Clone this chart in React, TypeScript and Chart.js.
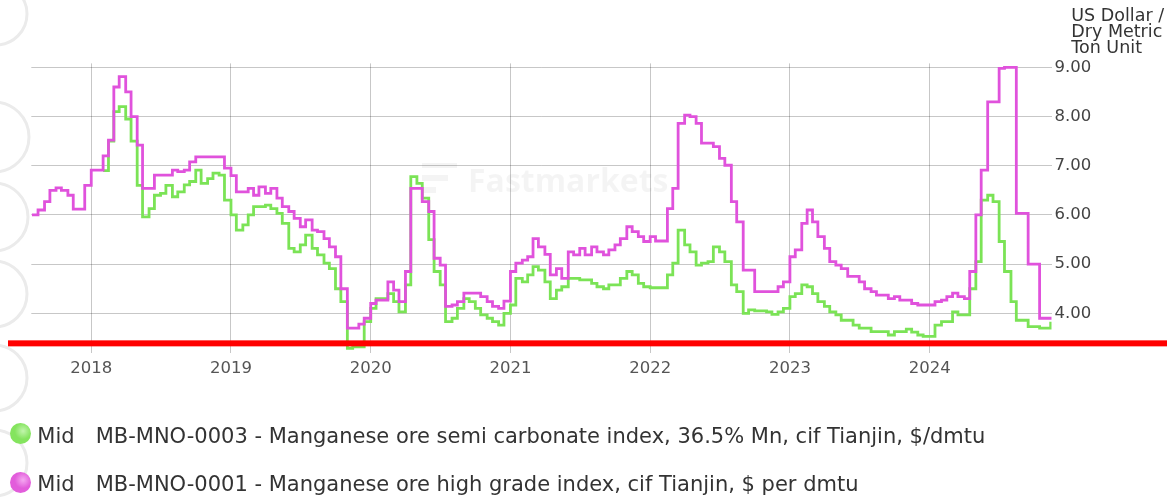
import React, { useEffect, useRef } from "react";
import { Chart, registerables } from "chart.js";

Chart.register(...registerables);

// Half-monthly observation dates (price in force from that date)
const dates: string[] = [
  "2017-07-30", "2017-08-15", "2017-09-01", "2017-09-15", "2017-10-01", "2017-10-15", "2017-11-01", "2017-11-15", "2017-12-01", "2017-12-15",
  "2018-01-01", "2018-01-15", "2018-02-01", "2018-02-15", "2018-03-01", "2018-03-15", "2018-04-01", "2018-04-15", "2018-05-01", "2018-05-15", "2018-06-01", "2018-06-15",
  "2018-07-01", "2018-07-15", "2018-08-01", "2018-08-15", "2018-09-01", "2018-09-15", "2018-10-01", "2018-10-15", "2018-11-01", "2018-11-15", "2018-12-01", "2018-12-15",
  "2019-01-01", "2019-01-15", "2019-02-01", "2019-02-15", "2019-03-01", "2019-03-15", "2019-04-01", "2019-04-15", "2019-05-01", "2019-05-15", "2019-06-01", "2019-06-15",
  "2019-07-01", "2019-07-15", "2019-08-01", "2019-08-15", "2019-09-01", "2019-09-15", "2019-10-01", "2019-10-15", "2019-11-01", "2019-11-15", "2019-12-01", "2019-12-15",
  "2020-01-01", "2020-01-15", "2020-02-01", "2020-02-15", "2020-03-01", "2020-03-15", "2020-04-01", "2020-04-15", "2020-05-01", "2020-05-15", "2020-06-01", "2020-06-15",
  "2020-07-01", "2020-07-15", "2020-08-01", "2020-08-15", "2020-09-01", "2020-09-15", "2020-10-01", "2020-10-15", "2020-11-01", "2020-11-15", "2020-12-01", "2020-12-15",
  "2021-01-01", "2021-01-15", "2021-02-01", "2021-02-15", "2021-03-01", "2021-03-15", "2021-04-01", "2021-04-15", "2021-05-01", "2021-05-15", "2021-06-01", "2021-06-15",
  "2021-07-01", "2021-07-15", "2021-08-01", "2021-08-15", "2021-09-01", "2021-09-15", "2021-10-01", "2021-10-15", "2021-11-01", "2021-11-15", "2021-12-01", "2021-12-15",
  "2022-01-01", "2022-01-15", "2022-02-01", "2022-02-15", "2022-03-01", "2022-03-15", "2022-04-01", "2022-04-15", "2022-05-01", "2022-05-15", "2022-06-01", "2022-06-15",
  "2022-07-01", "2022-07-15", "2022-08-01", "2022-08-15", "2022-09-01", "2022-09-15", "2022-10-01", "2022-10-15", "2022-11-01", "2022-11-15", "2022-12-01", "2022-12-15",
  "2023-01-01", "2023-01-15", "2023-02-01", "2023-02-15", "2023-03-01", "2023-03-15", "2023-04-01", "2023-04-15", "2023-05-01", "2023-05-15", "2023-06-01", "2023-06-15",
  "2023-07-01", "2023-07-15", "2023-08-01", "2023-08-15", "2023-09-01", "2023-09-15", "2023-10-01", "2023-10-15", "2023-11-01", "2023-11-15", "2023-12-01", "2023-12-15",
  "2024-01-01", "2024-01-15", "2024-02-01", "2024-02-15", "2024-03-01", "2024-03-15", "2024-04-01", "2024-04-15", "2024-05-01", "2024-05-15", "2024-06-01", "2024-06-15",
  "2024-07-01", "2024-07-15", "2024-08-01", "2024-08-15", "2024-09-01", "2024-09-15", "2024-10-01", "2024-10-15", "2024-11-01", "2024-11-13",
];

// MB-MNO-0003 semi carbonate index (USD/dmtu)
const semiCarbonate: (number | null)[] = [
  null, null, null, null, null, null, null, null, null, null,
  null, null, 6.9, 7.5, 8.1, 8.2, 7.95, 7.5, 6.6, 5.96,
  6.13, 6.4, 6.44, 6.6, 6.37, 6.47, 6.61, 6.68, 6.91, 6.64,
  6.74, 6.85, 6.81, 6.3, 6.0, 5.69, 5.8, 6.0, 6.17, 6.17,
  6.2, 6.13, 6.03, 5.83, 5.32, 5.25, 5.39, 5.59, 5.32, 5.19,
  5.02, 4.91, 4.5, 4.24, 3.29, 3.32, 3.32, 3.83, 4.1, 4.3,
  4.3, 4.4, 4.24, 4.03, 4.58, 6.78, 6.64, 6.34, 5.5, 4.85,
  4.58, 3.83, 3.9, 4.1, 4.3, 4.24, 4.1, 3.97, 3.9, 3.83,
  3.76, 4.0, 4.17, 4.71, 4.64, 4.78, 4.95, 4.88, 4.64, 4.3,
  4.47, 4.54, 4.71, 4.71, 4.68, 4.68, 4.61, 4.54, 4.5, 4.58,
  4.58, 4.71, 4.85, 4.78, 4.61, 4.54, 4.52, 4.52, 4.52, 4.78,
  5.02, 5.69, 5.39, 5.25, 4.98, 5.02, 5.05, 5.35, 5.25, 5.05,
  4.58, 4.44, 4.0, 4.07, 4.05, 4.05, 4.03, 3.98, 4.03, 4.1,
  4.34, 4.4, 4.58, 4.54, 4.4, 4.24, 4.14, 4.03, 3.97, 3.86,
  3.86, 3.76, 3.7, 3.7, 3.63, 3.63, 3.63, 3.56, 3.63, 3.63,
  3.68, 3.62, 3.56, 3.53, 3.53, 3.76, 3.83, 3.83, 4.03, 3.97,
  3.97, 4.5, 5.05, 6.3, 6.4, 6.27, 5.46, 4.85, 4.24, 3.86,
  3.86, 3.73, 3.73, 3.7, 3.7, 3.83,
];

// MB-MNO-0001 high grade index (USD/dmtu)
const highGrade: (number | null)[] = [
  6.0, 6.1, 6.27, 6.5, 6.55, 6.5, 6.4, 6.12, 6.12, 6.6,
  6.91, 6.91, 7.2, 7.52, 8.6, 8.81, 8.5, 8.0, 7.42, 6.54,
  6.54, 6.81, 6.81, 6.81, 6.91, 6.88, 6.91, 7.08, 7.18, 7.18,
  7.18, 7.18, 7.18, 6.95, 6.8, 6.47, 6.47, 6.54, 6.4, 6.57,
  6.44, 6.54, 6.34, 6.17, 6.07, 5.93, 5.76, 5.9, 5.69, 5.66,
  5.52, 5.35, 5.15, 4.5, 3.7, 3.7, 3.78, 3.9, 4.2, 4.27,
  4.27, 4.64, 4.47, 4.24, 4.85, 6.54, 6.54, 6.27, 6.07, 5.12,
  4.98, 4.14, 4.17, 4.24, 4.41, 4.41, 4.41, 4.34, 4.24, 4.14,
  4.1, 4.25, 4.85, 5.02, 5.08, 5.15, 5.52, 5.35, 5.2, 4.78,
  4.91, 4.71, 5.25, 5.19, 5.32, 5.19, 5.35, 5.25, 5.19, 5.29,
  5.39, 5.52, 5.76, 5.66, 5.56, 5.46, 5.56, 5.47, 5.47, 6.13,
  6.54, 7.86, 8.03, 8.0, 7.86, 7.46, 7.46, 7.39, 7.15, 7.01,
  6.27, 5.86, 4.88, 4.88, 4.44, 4.44, 4.44, 4.44, 4.54, 4.64,
  5.15, 5.29, 5.83, 6.1, 5.86, 5.56, 5.32, 5.05, 4.98, 4.91,
  4.75, 4.75, 4.64, 4.5, 4.44, 4.37, 4.37, 4.3, 4.34, 4.27,
  4.27, 4.2, 4.17, 4.17, 4.17, 4.24, 4.27, 4.34, 4.41, 4.34,
  4.3, 4.85, 6.0, 6.91, 8.3, 8.3, 8.98, 9.0, 9.0, 6.03,
  6.03, 5.0, 5.0, 3.9, 3.9, 3.93,
];

const yearTicks = [2018, 2019, 2020, 2021, 2022, 2023, 2024];
const priceTicks = [4, 5, 6, 7, 8, 9];
const xRange = [2017.571, 2024.872];
const yRange = [3.2, 9.08];
const redLineLevel = 3.39;
const axisTitleLines = ["US Dollar /", "Dry Metric", "Ton Unit"];

const GREEN = "#7be356";
const MAGENTA = "#e052dc";

const legendItems = [
  {
    kind: "Mid",
    label: "MB-MNO-0003 - Manganese ore semi carbonate index, 36.5% Mn, cif Tianjin, $/dmtu",
    base: "#84e45e",
    light: "#c2f5ad",
  },
  {
    kind: "Mid",
    label: "MB-MNO-0001 - Manganese ore high grade index, cif Tianjin, $ per dmtu",
    base: "#e25ddb",
    light: "#f5a9f1",
  },
];

function toYear(d: string): number {
  const [y, m, day] = d.split("-").map(Number);
  const start = Date.UTC(y, 0, 1);
  const end = Date.UTC(y + 1, 0, 1);
  return y + (Date.UTC(y, m - 1, day) - start) / (end - start);
}

function series(values: (number | null)[]) {
  const pts: { x: number; y: number }[] = [];
  dates.forEach((d, i) => {
    const v = values[i];
    if (v !== null && v !== undefined) pts.push({ x: toYear(d), y: v });
  });
  return pts;
}

const FONT = "'DejaVu Sans', Verdana, sans-serif";

const decorPlugin = {
  id: "decor",
  beforeDraw(chart: any) {
    const ctx = chart.ctx;
    ctx.save();
    ctx.strokeStyle = "#ebebeb";
    ctx.lineWidth = 3;
    const rings = [
      [-4, 14, 31],
      [-6, 137, 35],
      [-6, 217, 34],
      [-6, 294, 33],
      [-6, 378, 33],
      [-6, 463, 33],
    ];
    rings.forEach(([cx, cy, r]) => {
      ctx.beginPath();
      ctx.arc(cx, cy, r, -Math.PI / 2, Math.PI / 2);
      ctx.stroke();
    });
    ctx.restore();
  },
  beforeDatasetsDraw(chart: any) {
    const ctx = chart.ctx;
    ctx.save();
    ctx.fillStyle = "rgba(0,0,0,0.045)";
    ctx.fillRect(422, 163, 35, 5);
    ctx.fillRect(422, 175, 26, 6);
    ctx.fillRect(422, 187, 14, 6);
    ctx.font = "bold 32px 'Open Sans', sans-serif";
    ctx.textBaseline = "alphabetic";
    ctx.fillText("Fastmarkets", 468, 192);
    ctx.restore();
  },
  afterDraw(chart: any) {
    const ctx = chart.ctx;
    const y = chart.scales.y.getPixelForValue(redLineLevel);
    ctx.save();
    ctx.fillStyle = "#ff0000";
    ctx.fillRect(8, y - 3, chart.width - 8, 6);
    ctx.restore();
  },
};

export default function App() {
  const canvasRef = useRef<HTMLCanvasElement | null>(null);

  useEffect(() => {
    const canvas = canvasRef.current;
    if (!canvas) return;
    const gridColor = "rgba(0,0,0,0.22)";
    const chart = new Chart(canvas, {
      type: "line",
      data: {
        datasets: [
          {
            label: legendItems[0].label,
            data: series(semiCarbonate),
            borderColor: GREEN,
            backgroundColor: GREEN,
            borderWidth: 2.8,
            pointRadius: 0,
            stepped: "before",
            fill: false,
            order: 1,
          },
          {
            label: legendItems[1].label,
            data: series(highGrade),
            borderColor: MAGENTA,
            backgroundColor: MAGENTA,
            borderWidth: 2.8,
            pointRadius: 0,
            stepped: "before",
            fill: false,
            order: 0,
          },
        ],
      },
      options: {
        responsive: false,
        maintainAspectRatio: false,
        animation: false,
        layout: { padding: { left: 31.3, top: 63.4, right: 0, bottom: 104.3 } },
        plugins: {
          legend: { display: false },
          tooltip: { enabled: false },
        },
        scales: {
          x: {
            type: "linear",
            min: xRange[0],
            max: xRange[1],
            afterBuildTicks: (s: any) => {
              s.ticks = yearTicks.map((v) => ({ value: v }));
            },
            afterFit: (s: any) => {
              s.height = 40;
            },
            ticks: {
              callback: (v: any) => String(v),
              font: { family: FONT, size: 16.5 },
              color: "#555",
              padding: 6,
              maxRotation: 0,
              autoSkip: false,
            },
            grid: { color: gridColor, drawTicks: false, lineWidth: 1 },
            border: { display: false },
          },
          y: {
            type: "linear",
            position: "right",
            min: yRange[0],
            max: yRange[1],
            afterBuildTicks: (s: any) => {
              s.ticks = priceTicks.map((v) => ({ value: v }));
            },
            afterFit: (s: any) => {
              s.width = 115.5;
            },
            ticks: {
              callback: (v: any) => Number(v).toFixed(2),
              font: { family: FONT, size: 16.5 },
              color: "#444",
              padding: 3,
            },
            grid: { color: gridColor, drawTicks: false, lineWidth: 1 },
            border: { display: false },
          },
        },
      },
      plugins: [decorPlugin],
    } as any);
    return () => chart.destroy();
  }, []);

  const rowTops = [425.5, 473.9];
  const circleCenters = [433.7, 482];

  return (
    <div
      style={{
        position: "fixed",
        left: 0,
        top: 0,
        width: 1167,
        height: 497,
        background: "#fff",
        overflow: "hidden",
      }}
    >
      <canvas
        ref={canvasRef}
        width={1167}
        height={497}
        style={{ position: "absolute", left: 0, top: 0, width: 1167, height: 497, display: "block" }}
      />
      <div
        style={{
          position: "absolute",
          left: 1071.3,
          top: 6.5,
          fontFamily: FONT,
          fontSize: 17.5,
          lineHeight: "16.3px",
          color: "#333",
          whiteSpace: "nowrap",
        }}
      >
        {axisTitleLines.map((t) => (
          <div key={t}>{t}</div>
        ))}
      </div>
      {legendItems.map((item, i) => (
        <React.Fragment key={item.label}>
          <div
            style={{
              position: "absolute",
              left: 10,
              top: circleCenters[i] - 10.5,
              width: 21,
              height: 21,
              borderRadius: "50%",
              background: `radial-gradient(circle at 62% 38%, ${item.light} 0%, ${item.base} 45%, ${item.base} 100%)`,
            }}
          />
          <div
            style={{
              position: "absolute",
              left: 37.3,
              top: rowTops[i],
              fontFamily: FONT,
              fontSize: 21,
              lineHeight: "21px",
              color: "#333",
              whiteSpace: "nowrap",
            }}
          >
            {item.kind}
          </div>
          <div
            style={{
              position: "absolute",
              left: 95.7,
              top: rowTops[i],
              fontFamily: FONT,
              fontSize: 21,
              lineHeight: "21px",
              color: "#333",
              whiteSpace: "nowrap",
            }}
          >
            {item.label}
          </div>
        </React.Fragment>
      ))}
    </div>
  );
}
